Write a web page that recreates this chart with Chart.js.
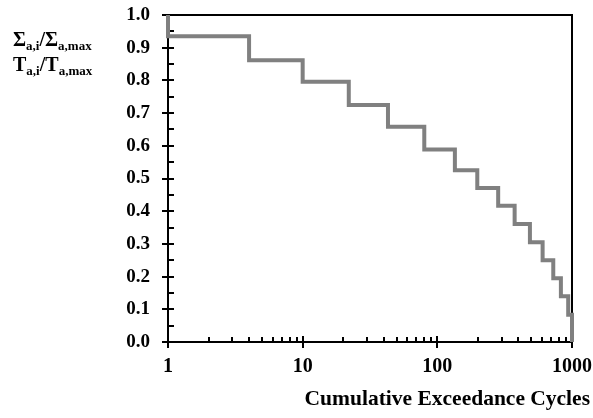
<!DOCTYPE html>
<html>
<head>
<meta charset="utf-8">
<script src="https://cdn.jsdelivr.net/npm/chart.js@4"></script>
<style>
  html, body { margin: 0; padding: 0; background: #fff; }
  #wrap { position: relative; width: 593px; height: 418px; }
  canvas { position: absolute; left: 0; top: 0; }
  .lbl { position: absolute; font-family: "Liberation Serif", "Times New Roman", serif; font-weight: bold; color: #000; white-space: nowrap; line-height: 1; }
  .lbl sub { font-size: 13px; vertical-align: baseline; position: relative; top: 4px; }
</style>
</head>
<body>
<div id="wrap">
  <canvas id="c" width="593" height="418"></canvas>
  <div class="lbl" style="left:13px; top:29px; font-size:20px;">&Sigma;<sub>a,i</sub>/&Sigma;<sub>a,max</sub></div>
  <div class="lbl" style="left:13px; top:54px; font-size:20px;">T<sub>a,i</sub>/T<sub>a,max</sub></div>
  <div class="lbl" style="right:3px; top:388px; font-size:21.5px;">Cumulative Exceedance Cycles</div>
</div>
<script>
// Data (cumulative cycles vs. normalized amplitude)
const cycles = [1, 1, 4, 10, 22, 43, 80, 135, 198, 283, 375, 487, 605, 726, 827, 937, 1000];
const ratio  = [1.0, 0.935, 0.862, 0.796, 0.725, 0.658, 0.589, 0.525, 0.471, 0.417, 0.361, 0.305, 0.25, 0.195, 0.14, 0.083, 0.0];
const xTickValues = [1, 10, 100, 1000];
const yTickValues = [0, 0.1, 0.2, 0.3, 0.4, 0.5, 0.6, 0.7, 0.8, 0.9, 1.0];

const points = cycles.map((x, i) => ({ x: x, y: ratio[i] }));

const axesPlugin = {
  id: 'axesPlugin',
  beforeDatasetsDraw(chart) {
    const ctx = chart.ctx;
    const a = chart.chartArea;
    const xs = chart.scales.x, ys = chart.scales.y;
    ctx.save();
    ctx.strokeStyle = '#000';
    ctx.lineWidth = 2;
    ctx.strokeRect(a.left, a.top, a.right - a.left, a.bottom - a.top);
    ctx.beginPath();
    for (let i = 0; i <= 20; i++) {
      const v = i * 0.05;
      const py = Math.round(ys.getPixelForValue(v));
      if (i % 2 === 0) { ctx.moveTo(a.left - 6, py); ctx.lineTo(a.left + 6, py); }
      else { ctx.moveTo(a.left, py); ctx.lineTo(a.left + 6, py); }
    }
    for (let d = 1; d <= 1000; d *= 10) {
      const px = Math.round(xs.getPixelForValue(d));
      ctx.moveTo(px, a.bottom - 6); ctx.lineTo(px, a.bottom + 6);
      if (d < 1000) {
        for (let k = 2; k <= 9; k++) {
          const mx = Math.round(xs.getPixelForValue(d * k));
          ctx.moveTo(mx, a.bottom - 5); ctx.lineTo(mx, a.bottom);
        }
      }
    }
    ctx.stroke();
    ctx.restore();
  }
};

new Chart(document.getElementById('c'), {
  type: 'line',
  data: {
    datasets: [{
      data: points,
      stepped: 'before',
      borderColor: '#808080',
      borderWidth: 4,
      pointRadius: 0,
      fill: false,
      clip: 6
    }]
  },
  options: {
    responsive: false,
    animation: false,
    devicePixelRatio: 1,
    layout: { padding: { left: 0, right: 21, top: 15, bottom: 0 } },
    plugins: { legend: { display: false }, tooltip: { enabled: false } },
    scales: {
      x: {
        type: 'logarithmic',
        min: 1, max: 1000,
        grid: { display: false, drawTicks: false },
        border: { display: false },
        afterBuildTicks(scale) { scale.ticks = xTickValues.map(v => ({ value: v })); },
        afterFit(scale) { scale.height = 76; scale.paddingLeft = 0; scale.paddingRight = 0; },
        ticks: {
          padding: 13,
          color: '#000',
          maxRotation: 0,
          autoSkip: false,
          font: { family: '"Liberation Serif", "Times New Roman", serif', weight: 'bold', size: 20 },
          callback: (v) => String(v)
        }
      },
      y: {
        type: 'linear',
        min: 0, max: 1,
        grid: { display: false, drawTicks: false },
        border: { display: false },
        afterBuildTicks(scale) { scale.ticks = yTickValues.map(v => ({ value: v })); },
        afterFit(scale) { scale.width = 168; scale.paddingTop = 0; scale.paddingBottom = 0; },
        ticks: {
          padding: 18,
          color: '#000',
          autoSkip: false,
          font: { family: '"Liberation Serif", "Times New Roman", serif', weight: 'bold', size: 19 },
          callback: (v) => Number(v).toFixed(1)
        }
      }
    }
  },
  plugins: [axesPlugin]
});
</script>
</body>
</html>
